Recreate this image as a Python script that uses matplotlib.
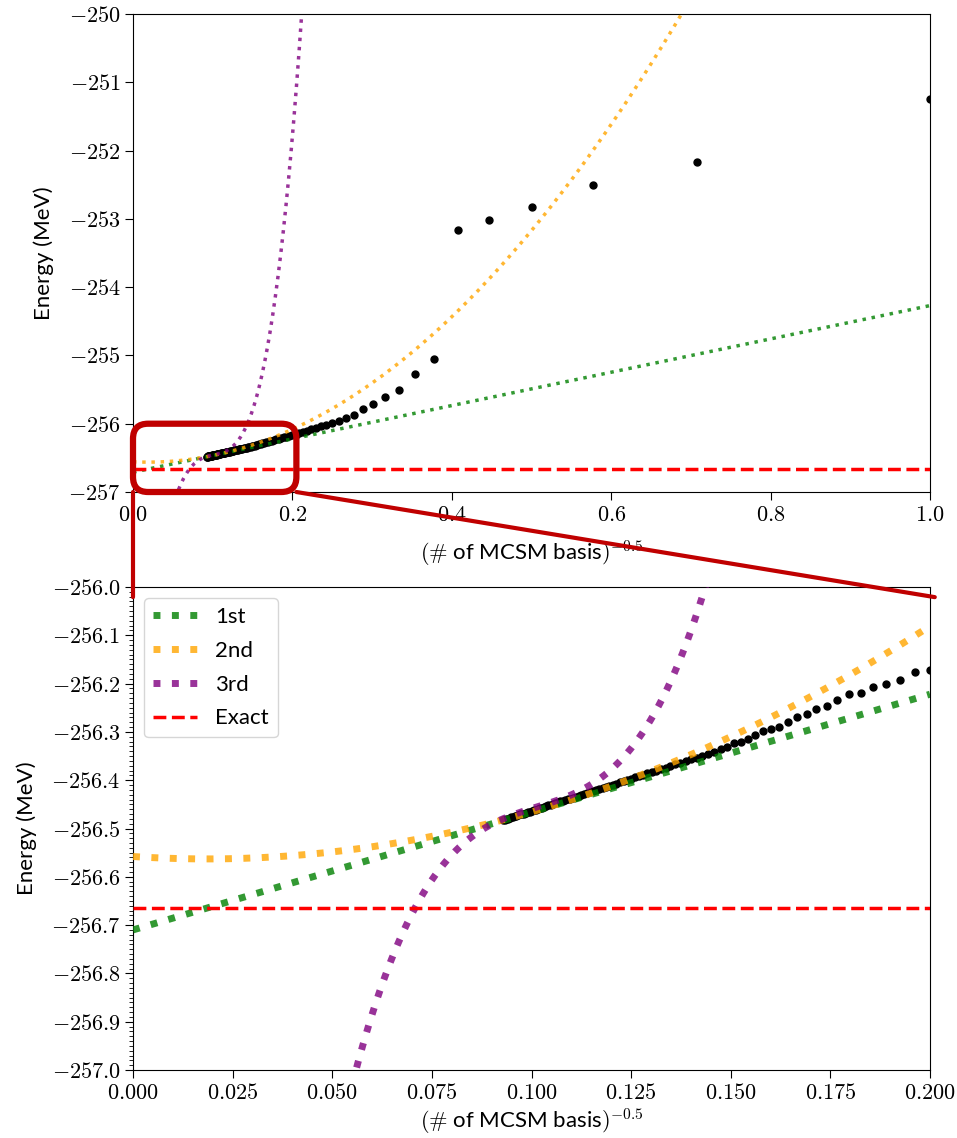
import numpy as np
import matplotlib.pyplot as plt
from matplotlib.patches import FancyBboxPatch, ConnectionPatch
from matplotlib.ticker import FuncFormatter, MultipleLocator

plt.rcParams['font.family'] = ['Lato', 'DejaVu Sans']
plt.rcParams['mathtext.fontset'] = 'cm'
plt.rcParams['font.size'] = 16

# MCSM energies vs number of basis states n (x = n^-0.5)
n_basis = np.arange(1, 117)
energy = [
    -251.25, -252.17, -252.51, -252.83, -253.01, -253.17, -255.05, -255.27, -255.51, -255.61,
    -255.71, -255.79, -255.87, -255.92, -255.96, -255.99, -256.02, -256.04, -256.06, -256.08,
    -256.10, -256.12, -256.14, -256.16, -256.172, -256.176, -256.193, -256.201, -256.208, -256.219,
    -256.221, -256.234, -256.246, -256.252, -256.263, -256.270, -256.280, -256.289, -256.294, -256.299,
    -256.306, -256.314, -256.320, -256.324, -256.331, -256.336, -256.341, -256.345, -256.349, -256.353,
    -256.356, -256.360, -256.364, -256.367, -256.370, -256.374, -256.377, -256.380, -256.383, -256.386,
    -256.389, -256.391, -256.394, -256.397, -256.399, -256.402, -256.404, -256.407, -256.409, -256.411,
    -256.414, -256.416, -256.418, -256.420, -256.422, -256.424, -256.426, -256.428, -256.430, -256.432,
    -256.434, -256.436, -256.438, -256.439, -256.441, -256.443, -256.444, -256.446, -256.448, -256.449,
    -256.451, -256.452, -256.454, -256.455, -256.457, -256.458, -256.460, -256.461, -256.462, -256.464,
    -256.465, -256.466, -256.468, -256.469, -256.470, -256.471, -256.473, -256.474, -256.475, -256.476,
    -256.477, -256.478, -256.480, -256.481, -256.482, -256.483,
]
exact = -256.665

# extrapolation fits (np.polyval order)
fit_coefs = [
    [2.44, -256.71],
    [14.628, -0.5406, -256.558],
    [4590.0, -1394.97, 143.875, -261.4867],
]
fit_labels = ['1st', '2nd', '3rd']
fit_colors = ['green', 'orange', 'purple']

x = np.array(n_basis) ** -0.5

fig = plt.figure(figsize=(9.57, 11.38), dpi=100)
ax1 = fig.add_axes([0.13898, 0.56766, 0.83281, 0.42004])
ax2 = fig.add_axes([0.13898, 0.05975, 0.83281, 0.42443])

def panel(ax, xmax, lw, dash_lw, xpad):
    xs = np.linspace(0, xmax, 600)
    ax.plot(x, energy, 'ko', ms=5, zorder=2)
    for c, lab, col in zip(fit_coefs, fit_labels, fit_colors):
        ax.plot(xs, np.polyval(c, xs), ':', color=col, alpha=0.8, lw=lw, label=lab, zorder=3)
    ax.axhline(exact, color='red', ls='--', lw=dash_lw, label='Exact', zorder=3)
    ax.set_xlabel(r'$(\#$ of MCSM basis$)^{-0.5}$', labelpad=xpad)
    ax.set_ylabel('Energy (MeV)', labelpad=10)
    ax.tick_params(length=5.5)

panel(ax1, 1.0, 2.5, 2.5, 10)
ax1.set_xlim(0, 1.0)
ax1.set_ylim(-257, -250)
ax1.xaxis.set_major_formatter(FuncFormatter(lambda v, p: '$%.1f$' % v))
ax1.yaxis.set_major_formatter(FuncFormatter(lambda v, p: '$%d$' % round(v)))

panel(ax2, 0.2, 5, 2.5, 3)
ax2.set_xlim(0, 0.2)
ax2.set_ylim(-257, -256)
ax2.xaxis.set_major_locator(MultipleLocator(0.025))
ax2.yaxis.set_major_locator(MultipleLocator(0.1))
ax2.yaxis.set_minor_locator(MultipleLocator(0.01))
ax2.tick_params(axis='y', which='minor', length=3)
ax2.xaxis.set_major_formatter(FuncFormatter(lambda v, p: '$%.3f$' % v))
ax2.yaxis.set_major_formatter(FuncFormatter(lambda v, p: '$%.1f$' % v))
ax2.legend(loc='upper left', fontsize=16, labelspacing=0.62)

# zoom box and connectors
box = FancyBboxPatch((0, -257), 0.205, 1.0, boxstyle='round,pad=0,rounding_size=0.019',
                     mutation_aspect=11.6, fill=False, ec='#c00000', lw=4.5,
                     clip_on=False, zorder=5)
ax1.add_patch(box)
for xa, xb in [(0, 0), (0.205, 1.006)]:
    con = ConnectionPatch(xyA=(xa, -257), coordsA=ax1.transData,
                          xyB=(xb, 0.979), coordsB=ax2.transAxes,
                          color='#c00000', lw=3)
    fig.add_artist(con)

fig.savefig('out.png', dpi=100)
